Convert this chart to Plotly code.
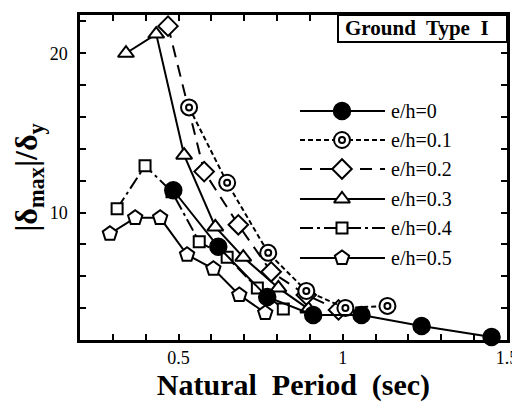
import plotly.graph_objects as go

# ---- data ----
period_0 = [0.484, 0.621, 0.770, 0.910, 1.057, 1.240, 1.453]
ratio_0 = [11.4, 7.85, 4.70, 3.57, 3.57, 2.88, 2.19]

period_01 = [0.532, 0.648, 0.773, 0.889, 1.008, 1.136]
ratio_01 = [16.6, 11.87, 7.47, 5.08, 4.01, 4.14]

period_02 = [0.468, 0.578, 0.682, 0.782, 0.889, 0.987]
ratio_02 = [21.7, 12.57, 9.23, 6.28, 4.83, 3.89]

period_03 = [0.340, 0.432, 0.517, 0.612, 0.697, 0.804, 0.895]
ratio_03 = [20.0, 21.2, 13.6, 9.1, 7.2, 5.27, 3.95]

period_04 = [0.313, 0.398, 0.480, 0.563, 0.648, 0.740, 0.819]
ratio_04 = [10.24, 12.94, 11.3, 8.16, 7.2, 5.27, 3.95]

period_05 = [0.291, 0.368, 0.444, 0.526, 0.606, 0.685, 0.764]
ratio_05 = [8.67, 9.67, 9.67, 7.35, 6.47, 4.83, 3.70]

labels = ["e/h=0", "e/h=0.1", "e/h=0.2", "e/h=0.3", "e/h=0.4", "e/h=0.5"]
x_ticks = [round(0.2 + 0.1 * i, 1) for i in range(14)]
x_ticklabels = {0.5: "0.5", 1.0: "1", 1.5: "1.5"}
y_ticks = list(range(2, 24, 2))
y_ticklabels = {10: "10", 20: "20"}

series = [
    (period_0, ratio_0, dict(symbol="circle", size=17, color="black", line=dict(color="black", width=1.5)), "solid"),
    (period_01, ratio_01, dict(symbol="circle", size=16, color="white", line=dict(color="black", width=2)), "5px,3px"),
    (period_02, ratio_02, dict(symbol="diamond", size=15, color="white", line=dict(color="black", width=2)), "12px,8px"),
    (period_03, ratio_03, dict(symbol="triangle-up", size=14, color="white", line=dict(color="black", width=2)), "solid"),
    (period_04, ratio_04, dict(symbol="square", size=11, color="white", line=dict(color="black", width=2)), "13px,4px,3px,4px"),
    (period_05, ratio_05, dict(symbol="pentagon", size=15, color="white", line=dict(color="black", width=2)), "solid"),
]
inner_ring = dict(symbol="circle-open", size=6, color="black", line=dict(color="black", width=2))

fig = go.Figure()
# draw from last to first so filled circle ends on top
for (xs, ys, mk, dash), lab in list(zip(series, labels))[::-1]:
    fig.add_trace(go.Scatter(x=xs, y=ys, mode="lines+markers", name=lab,
                             line=dict(color="black", width=2, dash=dash),
                             marker=mk, showlegend=False, cliponaxis=False))
    if lab == "e/h=0.1":
        fig.add_trace(go.Scatter(x=xs, y=ys, mode="markers", showlegend=False,
                                 marker=inner_ring, cliponaxis=False))

# ---- layout geometry (page pixels; the page body adds an 8px offset) ----
OFF = 8
PAGE_W, PAGE_H = 520, 411
W, H = PAGE_W - OFF, PAGE_H - OFF
PL, PR, PT, PB = 80, 507, 15, 340          # plot area in page pixels
L, T = PL - OFF, PT - OFF
R, B = W + OFF - PR, H + OFF - PB
pw, ph = PR - PL, PB - PT
def px2x(px):
    return (px - PL) / pw
def py2y(py):
    return (PB - py) / ph

# ---- manual legend (overlay axes spanning the plot area) ----
row_py = [111, 140, 169, 199, 228, 258]
x0, xm, x1, xt = px2x(300), px2x(342), px2x(385), px2x(389)
for (xs, ys, mk, dash), lab, rp in zip(series, labels, row_py):
    yy = py2y(rp)
    fig.add_trace(go.Scatter(x=[x0, x1], y=[yy, yy], mode="lines", xaxis="x2", yaxis="y2",
                             line=dict(color="black", width=2, dash=dash), showlegend=False,
                             hoverinfo="skip"))
    fig.add_trace(go.Scatter(x=[xm], y=[yy], mode="markers", xaxis="x2", yaxis="y2",
                             marker=mk, showlegend=False, hoverinfo="skip"))
    if lab == "e/h=0.1":
        fig.add_trace(go.Scatter(x=[xm], y=[yy], mode="markers", xaxis="x2", yaxis="y2",
                                 marker=inner_ring, showlegend=False, hoverinfo="skip"))
    fig.add_annotation(x=xt, y=yy, xref="x2", yref="y2", text=lab, showarrow=False,
                       xanchor="left", yanchor="middle",
                       font=dict(family="Liberation Serif", size=20, color="black"))

# Ground type box
fig.add_shape(type="rect", xref="paper", yref="paper", x0=px2x(338), x1=1.0,
              y0=py2y(42), y1=1.0, line=dict(color="black", width=2), fillcolor="white",
              layer="above")
fig.add_annotation(x=px2x(343), y=py2y(28), xref="paper", yref="paper",
                   text="<b>Ground  Type  I</b>", showarrow=False,
                   xanchor="left", yanchor="middle",
                   font=dict(family="Liberation Serif", size=21, color="black"))

axis_common = dict(showline=True, linecolor="black", linewidth=2.5, mirror="ticks",
                   ticks="inside", ticklen=6, tickwidth=2, tickcolor="black",
                   showgrid=False, zeroline=False, automargin=False,
                   tickfont=dict(family="Liberation Serif", size=18, color="black"))

fig.update_layout(
    width=W, height=H,
    margin=dict(l=L, r=R, t=T, b=B, autoexpand=False),
    paper_bgcolor="white", plot_bgcolor="white",
    showlegend=False,
    xaxis=dict(range=[0.2, 1.5], tickvals=x_ticks,
               ticktext=[x_ticklabels.get(v, "") for v in x_ticks],
               title=dict(text="<b>Natural  Period  (sec)</b>", standoff=6,
                          font=dict(family="Liberation Serif", size=30, color="black")),
               **axis_common),
    yaxis=dict(range=[2, 22.4], tickvals=y_ticks,
               ticktext=[y_ticklabels.get(v, "") for v in y_ticks],
               ticklabelstandoff=6,
               title=dict(text="<b>|δ<sub>max</sub>|/δ<sub>y</sub></b>", standoff=10,
                          font=dict(family="Liberation Serif", size=32, color="black")),
               **axis_common),
    xaxis2=dict(overlaying="x", range=[0, 1], visible=False, fixedrange=True),
    yaxis2=dict(overlaying="y", range=[0, 1], visible=False, fixedrange=True),
)

fig.write_html("out.html")
